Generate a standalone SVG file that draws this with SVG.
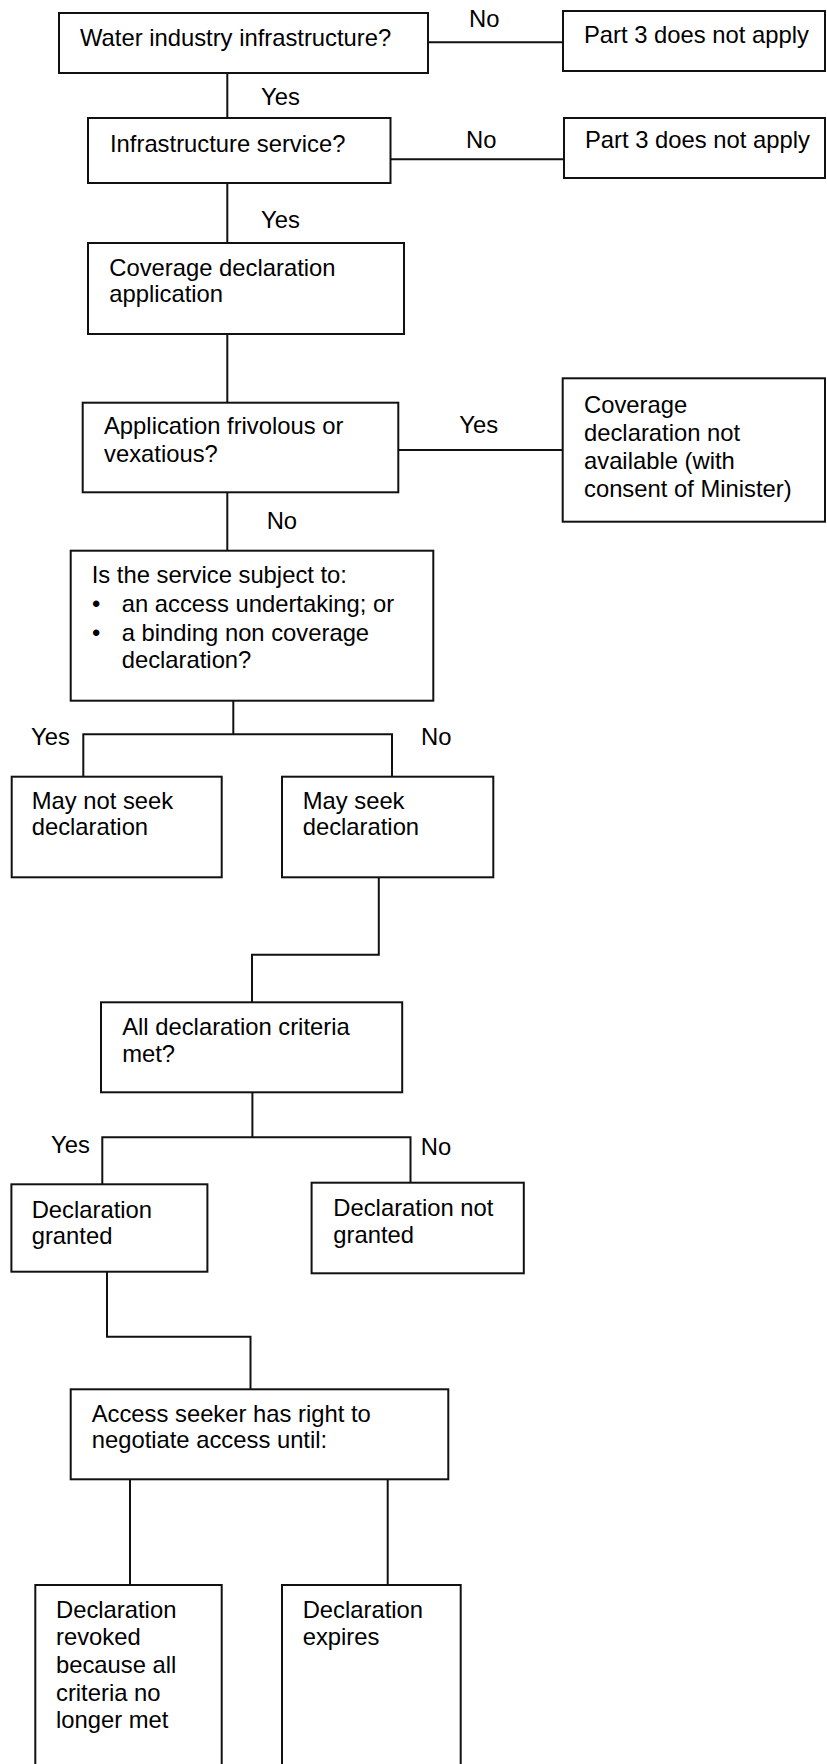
<svg xmlns="http://www.w3.org/2000/svg" width="827" height="1764" viewBox="0 0 827 1764">
<style>
.box{fill:#fff;stroke:#111;stroke-width:2}
.t{font-family:"Liberation Sans",Arial,sans-serif;font-size:23.8px;fill:#000}
.c{fill:none;stroke:#111;stroke-width:2}
</style>
<rect width="827" height="1764" fill="#fff"/>
<g id="connectors">
<path class="c" d="M428 42.3H563"/>
<path class="c" d="M227.3 73V118"/>
<path class="c" d="M390.5 159.3H564"/>
<path class="c" d="M227.3 183V243"/>
<path class="c" d="M227.3 334V402.7"/>
<path class="c" d="M398 450H562.7"/>
<path class="c" d="M227.3 492.3V550.7"/>
<path class="c" d="M233.3 700.7V734.3"/>
<path class="c" d="M83.3 776.7V734.3H392V776.7"/>
<path class="c" d="M378.8 877.3V954.7H252V1002.3"/>
<path class="c" d="M252.4 1092.3V1137.3"/>
<path class="c" d="M102.3 1184.3V1137.3H410.5V1182.7"/>
<path class="c" d="M107 1271.7V1336.7H250.5V1389.3"/>
<path class="c" d="M130 1479.3V1585"/>
<path class="c" d="M387.7 1479.3V1585"/>
<text class="t" x="469" y="27.3">No</text>
<text class="t" x="261" y="105">Yes</text>
<text class="t" x="466" y="148.3">No</text>
<text class="t" x="261" y="227.7">Yes</text>
<text class="t" x="459.3" y="433.3">Yes</text>
<text class="t" x="266.7" y="529">No</text>
<text class="t" x="31" y="745">Yes</text>
<text class="t" x="421" y="745">No</text>
<text class="t" x="51" y="1152.7">Yes</text>
<text class="t" x="420.8" y="1155">No</text>
</g>
<g id="n1"><rect class="box" x="59" y="13" width="369" height="60"/><text class="t" x="80" y="45.7">Water industry infrastructure?</text></g>
<g id="n2"><rect class="box" x="563" y="11" width="262" height="60"/><text class="t" x="584" y="43.3">Part 3 does not apply</text></g>
<g id="n3"><rect class="box" x="88" y="118" width="302.5" height="65"/><text class="t" x="110" y="151.7">Infrastructure service?</text></g>
<g id="n4"><rect class="box" x="564" y="118" width="261" height="60"/><text class="t" x="585" y="148.3">Part 3 does not apply</text></g>
<g id="n5"><rect class="box" x="88" y="243" width="316" height="91"/><text class="t" x="109.3" y="276">Coverage declaration</text><text class="t" x="109.3" y="302.3">application</text></g>
<g id="n6"><rect class="box" x="82.7" y="402.7" width="315.6" height="89.6"/><text class="t" x="104" y="434.3">Application frivolous or</text><text class="t" x="104" y="461.7">vexatious?</text></g>
<g id="n7"><rect class="box" x="562.7" y="378.3" width="262.3" height="143.4"/><text class="t" x="584" y="413">Coverage</text><text class="t" x="584" y="441">declaration not</text><text class="t" x="584" y="469">available (with</text><text class="t" x="584" y="497">consent of Minister)</text></g>
<g id="n8"><rect class="box" x="70.7" y="550.7" width="362.6" height="150"/><text class="t" x="91.7" y="582.7">Is the service subject to:</text><text class="t" x="92" y="611.7">•</text><text class="t" x="121.7" y="611.7">an access undertaking; or</text><text class="t" x="92" y="640.7">•</text><text class="t" x="121.7" y="640.7">a binding non coverage</text><text class="t" x="121.7" y="668.3">declaration?</text></g>
<g id="n9"><rect class="box" x="11.7" y="776.7" width="210" height="100.6"/><text class="t" x="31.7" y="809.3">May not seek</text><text class="t" x="31.7" y="835">declaration</text></g>
<g id="n10"><rect class="box" x="282" y="776.7" width="211.3" height="100.6"/><text class="t" x="302.7" y="809.3">May seek</text><text class="t" x="302.7" y="835">declaration</text></g>
<g id="n11"><rect class="box" x="101" y="1002.3" width="301.2" height="90"/><text class="t" x="122.2" y="1035">All declaration criteria</text><text class="t" x="122.2" y="1061.7">met?</text></g>
<g id="n12"><rect class="box" x="11.4" y="1184.3" width="196" height="87.4"/><text class="t" x="31.7" y="1218.3">Declaration</text><text class="t" x="31.7" y="1244.3">granted</text></g>
<g id="n13"><rect class="box" x="311.6" y="1182.7" width="212.2" height="90.6"/><text class="t" x="333.3" y="1215.7">Declaration not</text><text class="t" x="333.3" y="1242.7">granted</text></g>
<g id="n14"><rect class="box" x="70.7" y="1389.3" width="377.6" height="90"/><text class="t" x="91.7" y="1421.7">Access seeker has right to</text><text class="t" x="91.7" y="1448.3">negotiate access until:</text></g>
<g id="n15"><rect class="box" x="35.3" y="1585" width="186.4" height="200"/><text class="t" x="56" y="1617.7">Declaration</text><text class="t" x="56" y="1645.3">revoked</text><text class="t" x="56" y="1673">because all</text><text class="t" x="56" y="1700.6">criteria no</text><text class="t" x="56" y="1728.2">longer met</text></g>
<g id="n16"><rect class="box" x="282" y="1585" width="178.7" height="200"/><text class="t" x="302.7" y="1617.7">Declaration</text><text class="t" x="302.7" y="1645.3">expires</text></g>
</svg>
